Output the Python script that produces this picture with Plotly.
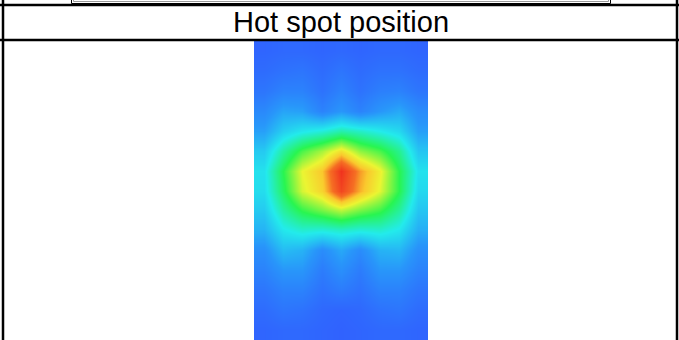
import plotly.graph_objects as go

# Sensor grid: 9 columns x 15 rows of normalised readings (0 = cold, 1 = hottest)
col_index = list(range(9))
row_index = list(range(15))

row_00 = [0.05, 0.06, 0.06, 0.05, 0.06, 0.05, 0.06, 0.06, 0.05]
row_01 = [0.07, 0.09, 0.10, 0.07, 0.10, 0.07, 0.09, 0.09, 0.07]
row_02 = [0.10, 0.14, 0.14, 0.09, 0.14, 0.09, 0.13, 0.14, 0.10]
row_03 = [0.16, 0.23, 0.22, 0.14, 0.20, 0.14, 0.20, 0.24, 0.17]
row_04 = [0.22, 0.32, 0.37, 0.40, 0.45, 0.42, 0.38, 0.34, 0.22]
row_05 = [0.31, 0.46, 0.58, 0.66, 0.76, 0.64, 0.58, 0.48, 0.30]
row_06 = [0.36, 0.55, 0.72, 0.80, 1.00, 0.84, 0.73, 0.55, 0.36]
row_07 = [0.35, 0.53, 0.70, 0.78, 0.96, 0.82, 0.71, 0.55, 0.34]
row_08 = [0.31, 0.46, 0.56, 0.62, 0.68, 0.62, 0.57, 0.47, 0.30]
row_09 = [0.26, 0.37, 0.41, 0.40, 0.42, 0.40, 0.41, 0.37, 0.25]
row_10 = [0.18, 0.28, 0.26, 0.17, 0.24, 0.17, 0.26, 0.27, 0.18]
row_11 = [0.14, 0.20, 0.20, 0.12, 0.18, 0.12, 0.20, 0.20, 0.14]
row_12 = [0.10, 0.14, 0.14, 0.09, 0.12, 0.09, 0.14, 0.14, 0.10]
row_13 = [0.07, 0.10, 0.09, 0.06, 0.05, 0.06, 0.09, 0.10, 0.07]
row_14 = [0.05, 0.06, 0.06, 0.05, 0.04, 0.05, 0.06, 0.06, 0.05]

readings = [row_00, row_01, row_02, row_03, row_04, row_05, row_06, row_07,
            row_08, row_09, row_10, row_11, row_12, row_13, row_14]

title_text = "Hot spot position"

W, H = 679, 340

jet_light = [
    [0.00, "rgb(50,85,255)"],
    [0.20, "rgb(40,150,250)"],
    [0.38, "rgb(35,235,235)"],
    [0.55, "rgb(40,245,80)"],
    [0.72, "rgb(235,245,50)"],
    [0.80, "rgb(250,200,45)"],
    [0.88, "rgb(245,110,35)"],
    [1.00, "rgb(240,50,30)"],
]


def px(x):
    return x / W


def py(y):
    return 1 - y / H


fig = go.Figure(
    go.Heatmap(
        x=col_index,
        y=row_index,
        z=readings,
        zmin=0,
        zmax=1,
        zsmooth="best",
        colorscale=jet_light,
        showscale=False,
        hoverinfo="skip",
    )
)

fig.update_layout(
    width=W,
    height=H,
    margin=dict(l=0, r=0, t=0, b=0),
    paper_bgcolor="white",
    plot_bgcolor="white",
    xaxis=dict(domain=[px(254), px(428)], range=[-0.5, 8.5], visible=False,
               fixedrange=True),
    yaxis=dict(domain=[0, py(41)], range=[14.5, -0.5], visible=False,
               fixedrange=True),
    showlegend=False,
)

# Table rules
line_black = dict(color="black", width=2.5)
shapes = [
    dict(type="line", xref="paper", yref="paper", x0=px(3), x1=px(3),
         y0=0, y1=1, line=line_black),
    dict(type="line", xref="paper", yref="paper", x0=px(677), x1=px(677),
         y0=0, y1=1, line=line_black),
    dict(type="line", xref="paper", yref="paper", x0=0, x1=1,
         y0=py(5), y1=py(5), line=line_black),
    dict(type="line", xref="paper", yref="paper", x0=0, x1=1,
         y0=py(40), y1=py(40), line=line_black),
    # framed box above the title row
    dict(type="rect", xref="paper", yref="paper", x0=px(71.5), x1=px(610.5),
         y0=py(3.5), y1=py(-5), line=dict(color="black", width=1)),
    dict(type="rect", xref="paper", yref="paper", x0=px(73.5), x1=px(608.5),
         y0=py(1.5), y1=py(-5), line=dict(color="#999999", width=1)),
]
fig.update_layout(shapes=shapes)

fig.add_annotation(
    text=title_text,
    xref="paper", yref="paper",
    x=px(341), y=py(22),
    xanchor="center", yanchor="middle",
    showarrow=False,
    font=dict(family="Liberation Sans, Arial, sans-serif", size=29,
              color="black"),
)

fig.write_html("out.html")
